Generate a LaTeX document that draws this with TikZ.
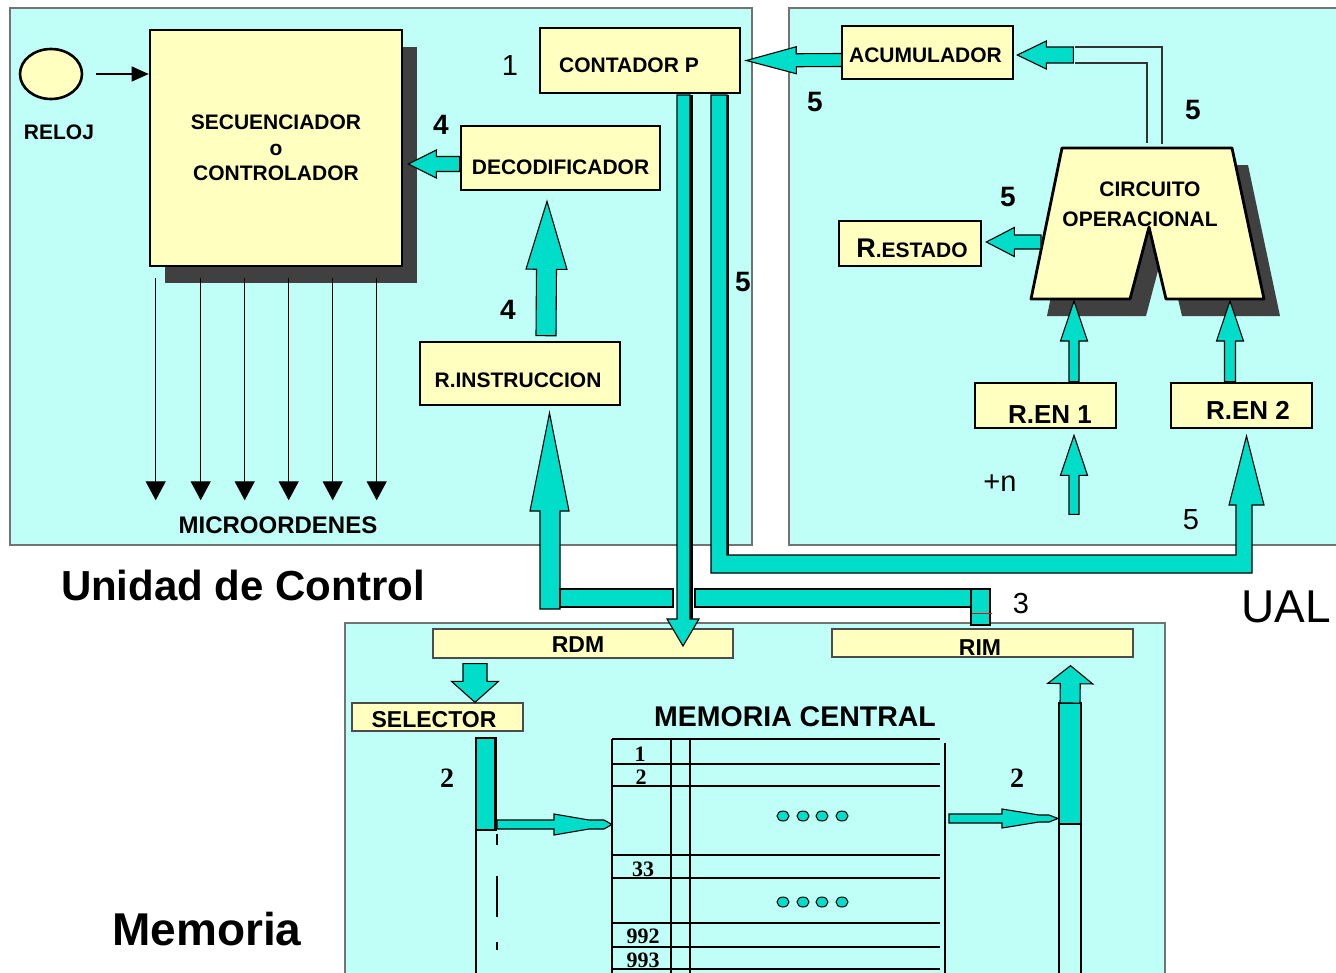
\documentclass[tikz,border=0pt]{standalone}
\usepackage{fontspec}
\setmainfont{Liberation Sans}
\newfontfamily\serfam{Liberation Serif}
\usetikzlibrary{calc,shadows,shapes.geometric,arrows.meta}
\definecolor{panelc}{RGB}{191,255,247}
\definecolor{boxc}{RGB}{255,255,192}
\definecolor{tealc}{RGB}{0,221,201}
\definecolor{shadc}{RGB}{64,64,64}
\newcommand\fsz[1]{\fontsize{#1}{#1}\selectfont}
% block arrow: from #1 to #2, shaft half width #3, head half width #4, head length #5
\newcommand\barrow[5]{%
  \coordinate (bh) at ($(#2)!#5!(#1)$);
  \filldraw[tealf] ($(#1)!#3!90:(#2)$) -- ($(bh)!#3!90:(#2)$) -- ($(bh)!#4!90:(#2)$) -- (#2)
     -- ($(bh)!#4!-90:(#2)$) -- ($(bh)!#3!-90:(#2)$) -- ($(#1)!#3!-90:(#2)$) -- cycle;}
\begin{document}
\begin{tikzpicture}[x=1pt,y=-1pt,
 panel/.style={fill=panelc,draw=black!55,line width=1.3pt},
 ybox/.style={draw=black,fill=boxc,line width=2.6pt,inner sep=0pt,font=\bfseries\fsz{21}},
 tbox/.style={draw=black!70,fill=boxc,line width=1.3pt,inner sep=0pt,font=\bfseries\fsz{23}},
 tealf/.style={fill=tealc,draw=black,line width=1.1pt},
 lab/.style={inner sep=0pt,font=\fsz{29}},
 blab/.style={inner sep=0pt,font=\bfseries\fsz{28}},
 slab/.style={inner sep=0pt,font=\serfam\bfseries\fsz{28}},
 mnum/.style={inner sep=0pt,font=\serfam\bfseries\fsz{22}},
 mline/.style={line width=1.6pt},
 micro/.style={line width=1.3pt,-{Triangle[length=19pt,width=20pt]}},
 dotc/.style={fill=tealc,draw=black,line width=1pt},
 thinl/.style={line width=1.2pt,draw=black!80},
]
\useasboundingbox (0,0) rectangle (1336,972);
\fill[white] (0,0) rectangle (1336,972);

% panels
\draw[panel] (10,8) rectangle (752,545);
\draw[panel] (789,8) rectangle (1345,545);
\draw[panel] (345,623) rectangle (1165,980);

% ---------- Unidad de Control ----------
\node[ellipse,draw=black,fill=boxc,line width=2.6pt,minimum width=62pt,minimum height=50pt,inner sep=0pt] (reloj) at (51,74) {};
\node[inner sep=0pt,font=\bfseries\fsz{21}] (relojl) at (59,132) {RELOJ};
\node[ybox,minimum width=252pt,minimum height=236pt,align=center,
      drop shadow={shadow xshift=15pt,shadow yshift=-17pt,fill=shadc,opacity=1}] (seq) at (276,148)
      {SECUENCIADOR\\[4.5pt]o\\[4.5pt]CONTROLADOR};
\node[ybox,minimum width=200pt,minimum height=65pt,text height=23pt,text depth=0pt] (cont) at (640,60.5) {CONTADOR P\hspace*{22pt}};
\node[ybox,minimum width=199pt,minimum height=64pt,text height=33pt,text depth=0pt] (deco) at (560.5,158) {DECODIFICADOR};
\node[ybox,minimum width=200pt,minimum height=63pt,text height=28pt,text depth=0pt] (rins) at (520,373.5) {R.INSTRUCCION\hspace*{4pt}};

\draw[line width=1.4pt,-{Triangle[length=17pt,width=15pt]}] ($(reloj.east)+(13,0)$) -- (reloj.east -| seq.west);
\foreach \dx in {7,52,96,140,184,228}
  \draw[micro] ($(seq.south west)+(\dx,11)$) -- ++(0,222);
\node[inner sep=0pt,font=\bfseries\fsz{24}] (micro) at (278,525) {MICROORDENES};

\coordinate (a1s) at ($(deco.west)+(0,6)$);
\coordinate (a1e) at ($(seq.east)+(5,16)$);
\barrow{a1s}{a1e}{7.5pt}{14pt}{28pt}
\coordinate (a2s) at ($(rins.north)+(26,-5)$);
\coordinate (a2e) at ($(deco.south)+(-13.5,10)$);
\barrow{a2s}{a2e}{10pt}{20.5pt}{68pt}

% ---------- UAL ----------
\node[ybox,minimum width=171pt,minimum height=53pt,text height=20pt,text depth=0pt] (acum) at (927.5,52.5) {ACUMULADOR\hspace*{4pt}};
\node[ybox,minimum width=142pt,minimum height=45pt,text height=27pt,text depth=0pt] (rest) at (910,243.5) {\hspace*{4pt}{\fsz{27}R}.ESTADO};
\node[ybox,minimum width=141pt,minimum height=45pt,text height=35pt,text depth=0pt,font=\bfseries\fsz{26}] (ren1) at (1045.5,405.5) {\hspace*{9pt}R.EN 1};
\node[ybox,minimum width=141pt,minimum height=45pt,text height=27pt,text depth=0pt,font=\bfseries\fsz{26}] (ren2) at (1241.5,405.5) {\hspace*{13pt}R.EN 2};

\fill[shadc,shift={(16,17)}] (1062,148) -- (1232,148) -- (1264,299) -- (1166,299) -- (1149,227) -- (1130,299) -- (1031,299) -- cycle;
\filldraw[fill=boxc,draw=black,line width=2.8pt,line join=round] (1062,148) -- (1232,148) -- (1264,299) -- (1166,299) -- (1149,227) -- (1130,299) -- (1031,299) -- cycle;
\node[inner sep=0pt,font=\bfseries\fsz{21}] (circ1) at (1150,189) {CIRCUITO};
\node[inner sep=0pt,font=\bfseries\fsz{21}] (circ2) at (1140,219) {OPERACIONAL};
\coordinate (circL) at (1041,242);
\coordinate (circB1) at (1074,301);
\coordinate (circB2) at (1230,301);
\coordinate (circT1) at (1147,143);
\coordinate (circT2) at (1162,144);

\draw[thinl] (circT1) |- (1075,63);
\draw[thinl] (circT2) |- (1075,47);

\coordinate (a4s) at ($(acum.west)+(1,7.5)$);
\coordinate (a4e) at ($(cont.east)+(5,0)$);
\barrow{a4s}{a4e}{6.5pt}{13.5pt}{50pt}
\coordinate (a5s) at ($(acum.east)+(59,2.5)$);
\coordinate (a5e) at ($(acum.east)+(3,2.5)$);
\barrow{a5s}{a5e}{8pt}{14pt}{29pt}
\coordinate (a6e) at ($(rest.east)+(4,-1.5)$);
\barrow{circL}{a6e}{7pt}{14.5pt}{28pt}
\coordinate (a7s) at ($(ren1.north)+(28.5,0)$);
\barrow{a7s}{circB1}{5pt}{13.5pt}{40pt}
\coordinate (a8s) at ($(ren1.south)+(28.5,85)$);
\coordinate (a8e) at ($(ren1.south)+(28.5,6)$);
\barrow{a8s}{a8e}{5pt}{13.5pt}{40pt}
\coordinate (a9s) at ($(ren2.north)+(-11.5,0)$);
\barrow{a9s}{circB2}{5.5pt}{13.5pt}{40pt}

% ---------- Memoria ----------
\node[tbox,minimum width=300pt,minimum height=29pt,text height=17pt,text depth=0pt] (rdm) at (583,643.5) {RDM\hspace*{10pt}};
\node[tbox,minimum width=301pt,minimum height=28pt,text height=24pt,text depth=0pt] (rim) at (982.5,643) {RIM\hspace*{5pt}};
\node[tbox,minimum width=171pt,minimum height=28pt,text height=20pt,text depth=0pt] (sel) at (437.5,717) {SELECTOR\hspace*{7pt}};
\node[inner sep=0pt,font=\bfseries\fsz{28.5}] (memc) at (795,717) {MEMORIA CENTRAL};

\coordinate (a11s) at ($(rdm.south)+(-108,5)$);
\coordinate (a11e) at ($(sel.north)+(37.5,0)$);
\barrow{a11s}{a11e}{12pt}{23.5pt}{21pt}

% memory table
\foreach \yy in {739,764,786,855,878,923,947,969}
  \draw[mline] (612,\yy) -- (940,\yy);
\draw[mline] (612,739) -- (612,980);
\draw[mline] (671,739) -- (671,980);
\draw[mline] (690,739) -- (690,980);
\draw[mline] (945,743) -- (945,980);
\node[mnum] (n1) at (640,754) {1};
\node[mnum] (n2) at (641,777) {2};
\node[mnum] (n33) at (643,869) {33};
\node[mnum] (n992) at (643,936) {992};
\node[mnum] (n993) at (643,960) {993};
\foreach \xx in {783,803,822,842} {
  \draw[dotc] (\xx,816) ellipse (6pt and 5pt);
  \draw[dotc] (\xx,902) ellipse (6pt and 5pt);
}

% selector bar
\filldraw[tealf] (476,738) rectangle (496,830);
\draw[line width=3pt] (495,738) -- (495,830);
\draw[line width=1.2pt] (476,830) -- (476,980);
\draw[line width=1.2pt,dash pattern=on 11pt off 31pt on 41pt off 25pt on 8pt off 60pt] (497,834) -- (497,980);
\filldraw[tealf] (497,820) -- (554,820) -- (554,814) -- (589,820) -- (604,820) -- (612,824.5) -- (604,829) -- (589,829) -- (554,835) -- (554,829) -- (497,829) -- cycle;

% right bar
\filldraw[tealf] (949,814) -- (1002,814) -- (1002,809) -- (1039,815) -- (1049,815) -- (1058,818.5) -- (1049,822) -- (1039,822) -- (1002,828) -- (1002,823) -- (949,823) -- cycle;
\filldraw[tealf] (1059,703) rectangle (1081,824);
\draw[line width=1.3pt] (1059,824) -- (1059,980);
\draw[line width=1.3pt] (1081,824) -- (1081,980);
\coordinate (a12s) at (1070,703);
\coordinate (a12e) at ($(rim.south)+(88,8)$);
\barrow{a12s}{a12e}{10pt}{22.5pt}{18pt}

% ---------- buses ----------
\filldraw[tealf] (711,95) -- (727,95) -- (727,555) -- (1236,555) -- (1236,505) -- (1229,505) -- (1246.5,436) -- (1264,505) -- (1252,505) -- (1252,573) -- (711,573) -- cycle;
\draw[line width=2.5pt] (728,95) -- (728,555);
\filldraw[tealf] (540,609) -- (540,511) -- (530,511) -- (549.5,413) -- (569,511) -- (560,511) -- (560,609) -- cycle;
\filldraw[tealf] (560,589) rectangle (673,607);
\filldraw[tealf] (695,589) rectangle (971,607);
\filldraw[tealf] (971,589) rectangle (990,625);
\draw[red,line width=0.8pt] (972,613) -- (992,613);
\filldraw[tealf] (677,95) -- (690,95) -- (690,619) -- (699,619) -- (683,646) -- (667,619) -- (677,619) -- cycle;
\draw[line width=2.5pt] (691.5,95) -- (691.5,619);

% ---------- labels ----------
\node[lab] (l1) at (510,66) {1};
\node[blab] (l4a) at (441,125) {4};
\node[blab] (l4b) at (508,310) {4};
\node[blab] (l5a) at (743,282) {5};
\node[blab] (l5b) at (815,102) {5};
\node[blab] (l5c) at (1193,110) {5};
\node[blab] (l5d) at (1008,197) {5};
\node[lab] (l5e) at (1191,520) {5};
\node[lab] (lpn) at (1000,483) {+n};
\node[lab] (l3) at (1021,604) {3};
\node[slab] (l2a) at (447,778) {2};
\node[slab] (l2b) at (1017,778) {2};

\node[inner sep=0pt,font=\bfseries\fsz{42}] (tuc) at (243,585) {Unidad de Control};
\node[inner sep=0pt,font=\fsz{46}] (tual) at (1286,607) {UAL};
\node[inner sep=0pt,font=\bfseries\fsz{46}] (tmem) at (207,929) {Memoria};
\end{tikzpicture}
\end{document}
